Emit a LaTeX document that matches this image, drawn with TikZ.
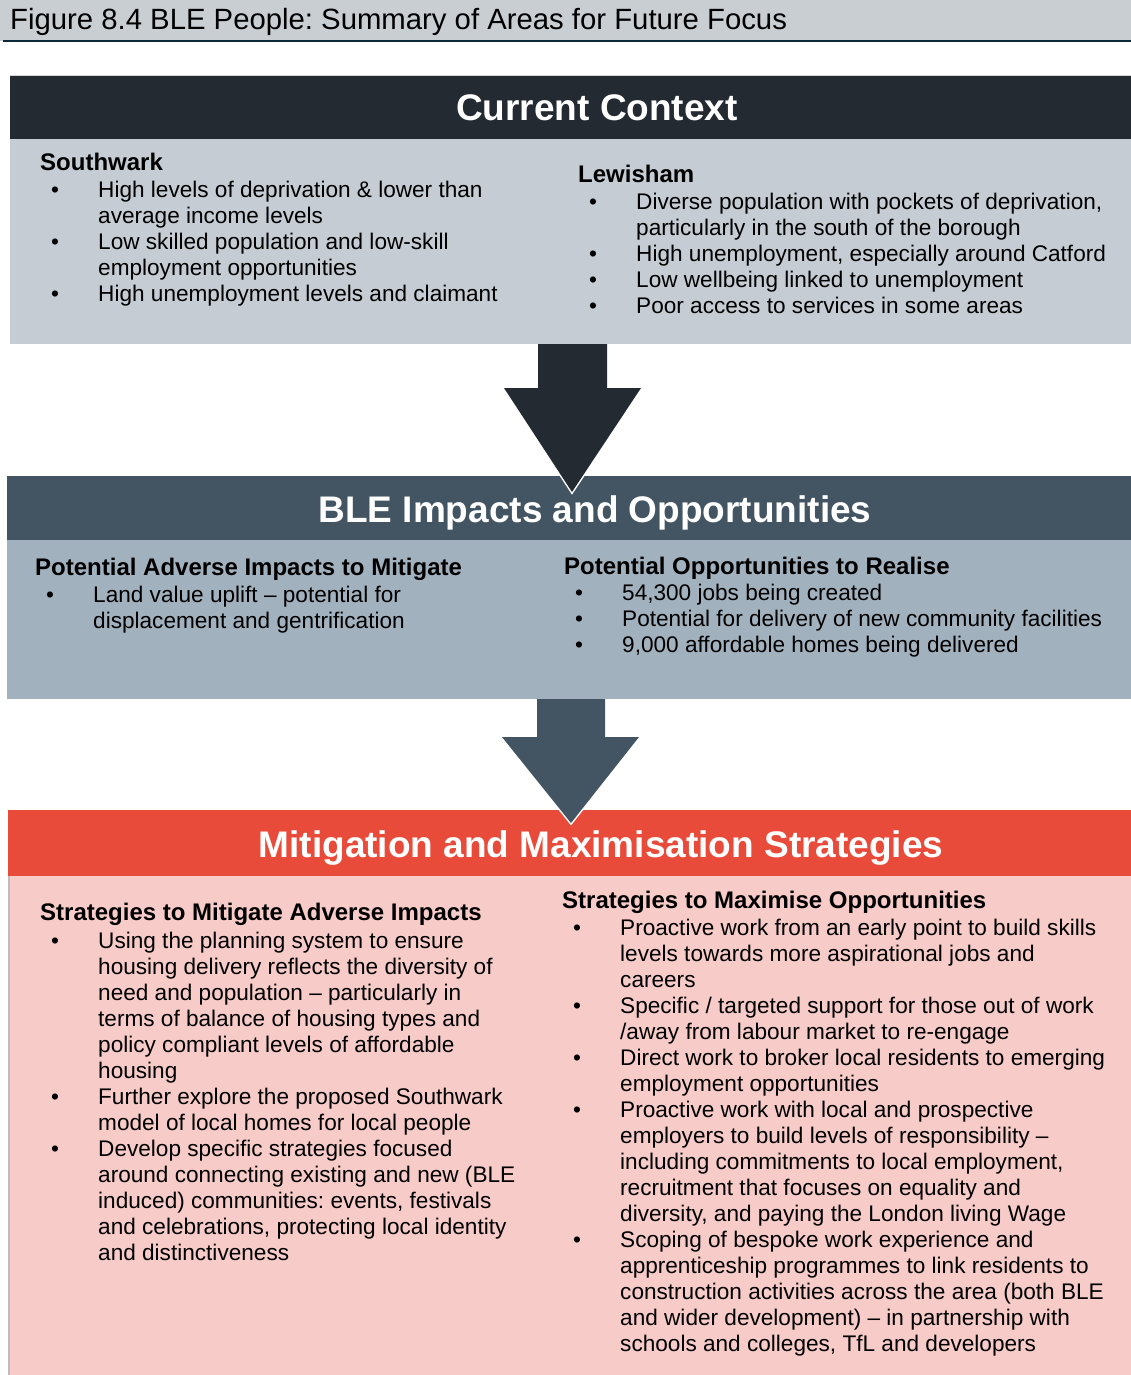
\documentclass[tikz,border=0pt]{standalone}
\usepackage{fontspec}
\setmainfont{Liberation Sans}
\definecolor{bandgray}{HTML}{C9CED3}
\definecolor{rulecol}{HTML}{0E2A3A}
\definecolor{hdrone}{HTML}{232A32}
\definecolor{bodyone}{HTML}{C5CCD3}
\definecolor{hdrtwo}{HTML}{435563}
\definecolor{bodytwo}{HTML}{A2B1BE}
\definecolor{hdrthree}{HTML}{E84B3A}
\definecolor{bodythree}{HTML}{F7CBC7}
\definecolor{edgegray}{HTML}{BDBDBD}
\newcommand{\bl}{\makebox[58pt][l]{\hspace{11pt}•}}
\newcommand{\ct}{\hspace*{58pt}}
\newcommand{\fs}{\rule{0pt}{20pt}}
\newcommand{\hd}[1]{{\fontsize{24}{26}\selectfont\bfseries #1}}
\frenchspacing
\begin{document}
\begin{tikzpicture}[x=1pt,y=-1pt,
  coltext/.style={anchor=north west,inner sep=0pt,align=left,font=\fontsize{22.6}{26}\selectfont\frenchspacing},
  hdrtitle/.style={anchor=base,inner sep=0pt,text=white,font=\fontsize{37}{44}\selectfont\bfseries}]
\useasboundingbox (0,0) rectangle (1131,1375);
% figure title band
\fill[bandgray] (0,0) rectangle (1131,41);
\draw[rulecol,line width=2pt] (3,41.5) -- (1131,41.5);
\node[anchor=base west,inner sep=0pt,font=\fontsize{29.3}{34}\selectfont\frenchspacing] (figtitle) at (10,30) {Figure 8.4 BLE People: Summary of Areas for Future Focus};
% box 1
\fill[bodyone] (10,139) rectangle (1131,344);
\fill[hdrone] (10,76) rectangle (1131,139);
\draw[edgegray!60,line width=0.6pt] (10,75.7) -- (1131,75.7);
\node[hdrtitle] (t1) at (597,121) {Current Context};
% box 2
\fill[bodytwo] (7,540) rectangle (1131,699);
\fill[hdrtwo] (7,476) rectangle (1131,540);
\node[hdrtitle] (t2) at (595,522) {BLE Impacts and Opportunities};
% box 3
\fill[bodythree] (8,876) rectangle (1131,1375);
\fill[hdrthree] (8,810) rectangle (1131,876);
\draw[edgegray,line width=1.5pt] (8.75,876) -- (8.75,1375);
\node[hdrtitle] (t3) at (601,857) {Mitigation and Maximisation Strategies};
% arrows
\coordinate (a1top) at (572,344);
\coordinate (a1tip) at (572,492);
\draw[white,line width=3pt,line join=miter] (504,388) -- (a1tip) -- (641,388);
\fill[hdrone] (538,344) -- (538,388) -- (504,388) -- (a1tip) -- (641,388) -- (607,388) -- (607,344) -- cycle;
\coordinate (a2top) at (571,699);
\coordinate (a2tip) at (571,823);
\draw[white,line width=3pt,line join=miter] (502,737) -- (a2tip) -- (639,737);
\fill[hdrtwo] (537,699) -- (537,737) -- (502,737) -- (a2tip) -- (639,737) -- (605,737) -- (605,699) -- cycle;
% box 1 text
\node[coltext] (southwark) at (40,150) {\fs\hd{Southwark}\\[1pt]
\bl High levels of deprivation \& lower than\\
\ct average income levels\\
\bl Low skilled population and low-skill\\
\ct employment opportunities\\
\bl High unemployment levels and claimant};
\node[coltext] (lewisham) at (578,162) {\fs\hd{Lewisham}\\[1pt]
\bl Diverse population with pockets of deprivation,\\
\ct particularly in the south of the borough\\
\bl High unemployment, especially around Catford\\
\bl Low wellbeing linked to unemployment\\
\bl Poor access to services in some areas};
% box 2 text
\node[coltext] (adverse) at (35,555) {\fs\hd{Potential Adverse Impacts to Mitigate}\\[1pt]
\bl Land value uplift – potential for\\
\ct displacement and gentrification};
\node[coltext] (opps) at (564,554) {\fs\hd{Potential Opportunities to Realise}\\[0pt]
\bl 54,300 jobs being created\\
\bl Potential for delivery of new community facilities\\
\bl 9,000 affordable homes being delivered};
% box 3 text
\node[coltext] (mitig) at (40,900) {\fs\hd{Strategies to Mitigate Adverse Impacts}\\[2pt]
\bl Using the planning system to ensure\\
\ct housing delivery reflects the diversity of\\
\ct need and population – particularly in\\
\ct terms of balance of housing types and\\
\ct policy compliant levels of affordable\\
\ct housing\\
\bl Further explore the proposed Southwark\\
\ct model of local homes for local people\\
\bl Develop specific strategies focused\\
\ct around connecting existing and new (BLE\\
\ct induced) communities: events, festivals\\
\ct and celebrations, protecting local identity\\
\ct and distinctiveness};
\node[coltext] (maxim) at (562,888) {\fs\hd{Strategies to Maximise Opportunities}\\[1pt]
\bl Proactive work from an early point to build skills\\
\ct levels towards more aspirational jobs and\\
\ct careers\\
\bl Specific / targeted support for those out of work\\
\ct /away from labour market to re-engage\\
\bl Direct work to broker local residents to emerging\\
\ct employment opportunities\\
\bl Proactive work with local and prospective\\
\ct employers to build levels of responsibility –\\
\ct including commitments to local employment,\\
\ct recruitment that focuses on equality and\\
\ct diversity, and paying the London living Wage\\
\bl Scoping of bespoke work experience and\\
\ct apprenticeship programmes to link residents to\\
\ct construction activities across the area (both BLE\\
\ct and wider development) – in partnership with\\
\ct schools and colleges, TfL and developers};
\end{tikzpicture}
\end{document}
